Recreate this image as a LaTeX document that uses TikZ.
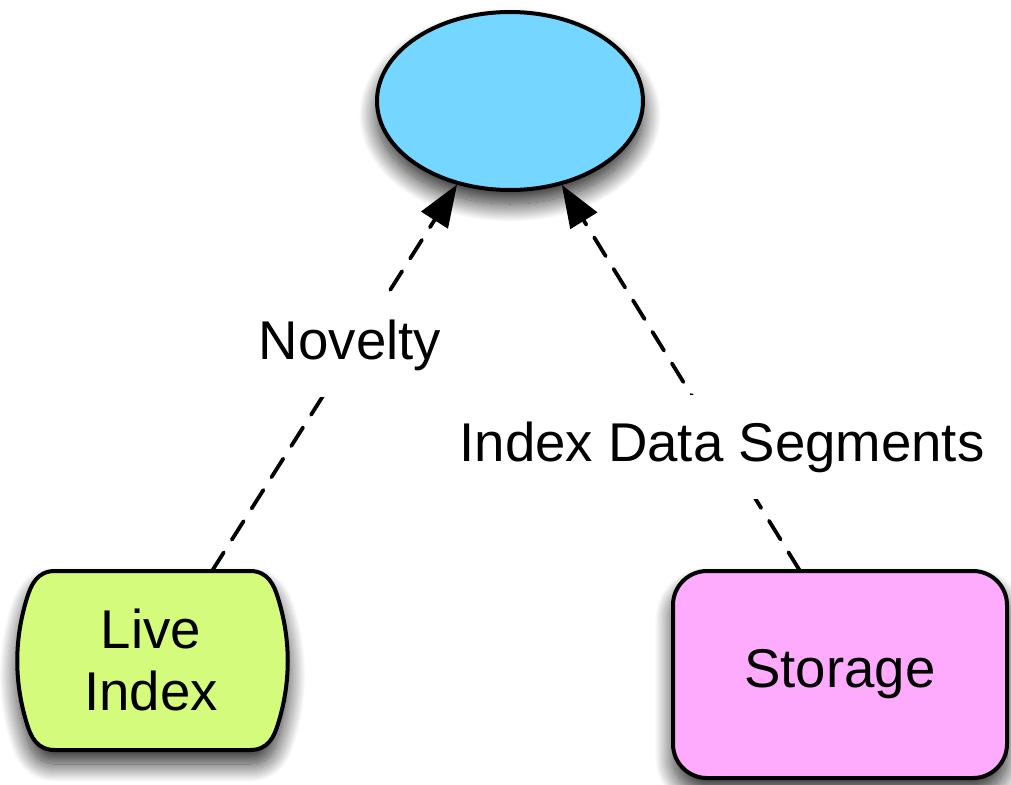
\documentclass[tikz,border=0pt]{standalone}
\usepackage{fontspec}
\setmainfont{Liberation Sans}
\usetikzlibrary{arrows.meta,shapes.geometric,shadows.blur}
\definecolor{ellblue}{RGB}{117,214,255}
\definecolor{livegreen}{RGB}{212,251,123}
\definecolor{storpink}{RGB}{254,171,254}
\tikzset{
  big/.style={font=\fontsize{54.6}{62}\selectfont},
  shad/.style={blur shadow={shadow xshift=0pt, shadow yshift=-14pt, shadow blur radius=18pt, shadow blur steps=30, shadow opacity=85}},
  border/.style={draw=black, line width=4pt},
  conn/.style={line width=3.8pt, dash pattern=on 22pt off 15pt, line cap=round,
    -{Triangle[length=42pt,width=32pt,fill=black,line width=0pt]}},
  lab/.style={big, fill=white, inner xsep=4pt, minimum height=104pt}
}
\begin{document}
\begin{tikzpicture}[x=1pt,y=-1pt]
\useasboundingbox (0,0) rectangle (1011,784);
% top ellipse
\node[ellipse, border, fill=ellblue, shad, minimum width=266pt, minimum height=178pt, inner sep=0pt] (ell) at (510,101) {};
% storage
\node[border, fill=storpink, shad, rounded corners=34pt, minimum width=334pt, minimum height=207pt, big] (stor) at (840,674.5) {Storage};
% live index shape
\path[border, fill=livegreen, shad]
  (55,571) -- (250,571)
  .. controls (268,571) and (274,585) .. (278,598)
  .. controls (291,640) and (291,682) .. (278,724)
  .. controls (274,737) and (268,750) .. (250,750)
  -- (55,750)
  .. controls (37,750) and (31,737) .. (27,724)
  .. controls (14,682) and (14,640) .. (27,598)
  .. controls (31,585) and (37,571) .. (55,571) -- cycle;
\node[big, align=center, inner sep=0pt] (live) at (151,660) {Live\\Index};
% connector start points
\coordinate (a1) at (212,571);
\coordinate (a2) at (800,571);
\draw[conn] (a1) -- (ell);
\draw[conn] (a2) -- (ell);
\node[lab] (nov) at (350,345) {Novelty};
\node[lab] (seg) at (722,447) {Index Data Segments};
\end{tikzpicture}
\end{document}
